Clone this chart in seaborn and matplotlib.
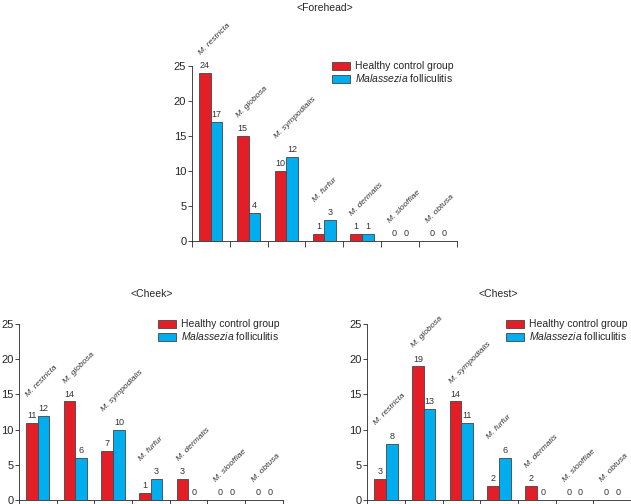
import pandas as pd
import matplotlib
matplotlib.use('Agg')
import matplotlib.pyplot as plt
import seaborn as sb

# dados
especies = ['M. restricta', 'M. globosa', 'M. sympodialis', 'M. furfur',
            'M. dermatis', 'M. slooffiae', 'M. obtusa']
grupos = ['Healthy control group', 'Malassezia folliculitis']

testa_saudavel = [24, 15, 10, 1, 1, 0, 0]
testa_mf = [17, 4, 12, 3, 1, 0, 0]
bochecha_saudavel = [11, 14, 7, 1, 3, 0, 0]
bochecha_mf = [12, 6, 10, 3, 0, 0, 0]
peito_saudavel = [3, 19, 14, 2, 2, 0, 0]
peito_mf = [8, 13, 11, 6, 0, 0, 0]

sb.set_style('ticks')
plt.rcParams['font.family'] = ['Liberation Sans', 'DejaVu Sans']
plt.rcParams['mathtext.fontset'] = 'custom'
plt.rcParams['mathtext.it'] = 'Liberation Sans:italic'
plt.rcParams['mathtext.rm'] = 'Liberation Sans'

cores = {grupos[0]: '#E41E26', grupos[1]: '#00AEEF'}


def monta(saudavel, mf):
    return pd.DataFrame({
        'Especie': especies * 2,
        'Grupo': [grupos[0]] * len(especies) + [grupos[1]] * len(especies),
        'N': saudavel + mf,
    })


def painel(ax, saudavel, mf):
    dados = monta(saudavel, mf)
    sb.barplot(dados, x='Especie', y='N', hue='Grupo', palette=cores, saturation=1,
               width=0.62, edgecolor='#444444', linewidth=0.6, ax=ax)
    for c in ax.containers:
        ax.bar_label(c, fontsize=6.5, padding=2, color='#333333')
    # nomes das especies acima das barras
    for i, nome in enumerate(especies):
        topo = max(saudavel[i], mf[i])
        ax.text(i - 0.22, topo + 2.4, nome, rotation=45, rotation_mode='anchor',
                ha='left', va='bottom', fontsize=6, style='italic', color='#333333')
    ax.set_ylim(0, 25)
    ax.set_yticks(range(0, 26, 5))
    ax.set_xlim(-0.5, len(especies) - 0.5)
    ax.set_xticks([x - 0.5 for x in range(len(especies) + 1)])
    ax.set_xticklabels([])
    ax.set_xlabel('')
    ax.set_ylabel('')
    ax.tick_params(axis='y', labelsize=8, length=3, width=0.6, pad=1)
    ax.tick_params(axis='x', length=4, width=0.6)
    for s in ['top', 'right']:
        ax.spines[s].set_visible(False)
    for s in ['left', 'bottom']:
        ax.spines[s].set_linewidth(0.6)
    handles, _ = ax.get_legend_handles_labels()
    ax.legend(handles, ['Healthy control group', r'$\it{Malassezia}$ folliculitis'],
              loc='upper right', bbox_to_anchor=(1.012, 1.062), frameon=False,
              fontsize=7.5, handlelength=1.7, handleheight=0.8, labelspacing=0.1,
              handletextpad=0.5, borderaxespad=0.2)


fig = plt.figure(figsize=(6.31, 5.04), dpi=100)
ax1 = fig.add_axes([0.304, 0.522, 0.42, 0.347])
ax2 = fig.add_axes([0.030, 0.008, 0.418, 0.349])
ax3 = fig.add_axes([0.582, 0.008, 0.418, 0.349])

painel(ax1, testa_saudavel, testa_mf)
painel(ax2, bochecha_saudavel, bochecha_mf)
painel(ax3, peito_saudavel, peito_mf)

# titulos de cada painel
fig.text(325 / 631, 1 - 8 / 504, '<Forehead>', ha='center', va='center', fontsize=7.5)
fig.text(152 / 631, 1 - 294 / 504, '<Cheek>', ha='center', va='center', fontsize=7.5)
fig.text(498 / 631, 1 - 294 / 504, '<Chest>', ha='center', va='center', fontsize=7.5)

fig.savefig('out.png', dpi=100)
